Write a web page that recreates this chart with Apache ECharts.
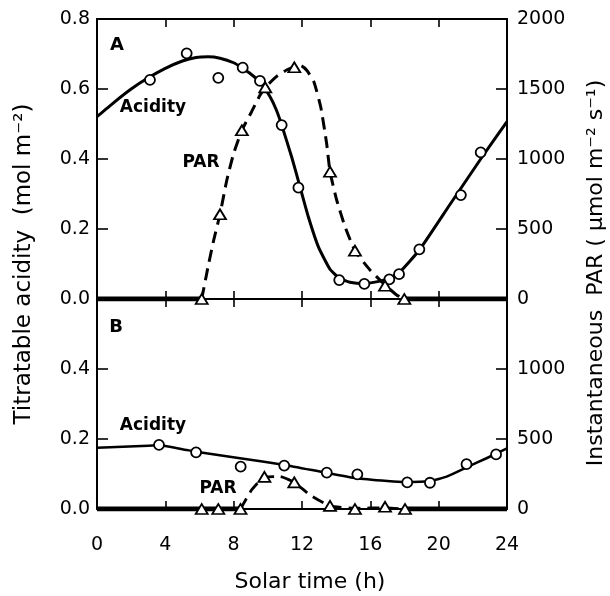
<!DOCTYPE html>
<html>
<head>
<meta charset="utf-8">
<script src="https://cdn.jsdelivr.net/npm/echarts@6/dist/echarts.min.js"></script>
<style>html,body{margin:0;padding:0;background:#fff}#c{width:610px;height:596px}</style>
</head>
<body>
<div id="c"></div>
<script>
// ---- Data ----
const xTicks = [0, 4, 8, 12, 16, 20, 24];

// Panel A: acidity (mol m-2) measured points and fitted curve
const acidityA_pts = [[3.1,0.626],[5.25,0.702],[7.1,0.632],[8.53,0.661],[9.54,0.623],[10.81,0.497],[11.79,0.318],[14.18,0.054],[15.65,0.043],[17.11,0.056],[17.68,0.071],[18.87,0.142],[21.3,0.297],[22.46,0.419]];
const acidityA_curve = [[0,0.521],[1,0.562],[2,0.600],[3,0.632],[4,0.659],[5,0.680],[5.8,0.690],[6.5,0.692],[7.2,0.688],[8,0.675],[8.5,0.660],[9,0.643],[9.54,0.620],[10.13,0.578],[10.5,0.540],[10.81,0.497],[11.4,0.405],[11.88,0.321],[12.37,0.235],[12.96,0.149],[13.64,0.085],[14.18,0.060],[14.8,0.048],[15.63,0.044],[16.57,0.051],[17.11,0.060],[17.7,0.076],[18.87,0.140],[20.66,0.270],[22.46,0.400],[24,0.507]];

// Panel A: PAR (umol m-2 s-1) measured points and curve
const parA_pts = [[6.13,0],[7.2,605],[8.48,1205],[9.85,1512],[11.55,1655],[13.64,909],[15.1,345],[16.86,95],[17.99,0]];
const parA_curve = [[6.13,0],[6.5,230],[6.85,430],[7.2,605],[7.6,850],[8.0,1040],[8.48,1205],[9.05,1338],[9.54,1455],[9.85,1512],[10.52,1590],[11.1,1636],[11.55,1658],[11.95,1666],[12.3,1630],[12.7,1550],[13.1,1370],[13.44,1112],[13.64,909],[14.03,707],[14.52,516],[15.1,345],[15.98,207],[16.86,100],[17.54,29],[17.99,0]];
const nightA = [[0,6.13],[17.99,24]];

// Panel B
const acidityB_pts = [[3.63,0.183],[5.8,0.162],[8.41,0.121],[10.96,0.124],[13.45,0.104],[15.24,0.099],[18.16,0.076],[19.49,0.075],[21.63,0.128],[23.36,0.156]];
const acidityB_curve = [[0,0.175],[1.5,0.178],[3,0.181],[3.63,0.182],[5,0.171],[6,0.162],[8.37,0.145],[11,0.126],[13.45,0.103],[15.2,0.088],[17,0.080],[18,0.077],[19.5,0.080],[20.5,0.093],[21.6,0.118],[22.8,0.145],[24,0.173]];
const parB_pts = [[6.13,0],[7.1,0],[8.4,0],[9.8,229],[11.55,190],[13.64,22],[15.1,0],[16.86,16],[18.03,0]];
const parB_curve = [[8.4,0],[9.05,136],[9.8,229],[10.7,232],[11.55,190],[12.47,100],[13.64,22],[15.1,6],[16.86,8],[18.03,0]];
const nightB = [[0,8.4],[18.03,24]];

const accLeftTicksA = [0, 0.8, 0.2];
const parRightTicksA = [0, 2000, 500];
const accLeftTicksB = [0, 0.6, 0.2];
const parRightTicksB = [0, 1500, 500];

// ---- Chart ----
const FONT = 'DejaVu Sans';
const chart = echarts.init(document.getElementById('c'), null, {renderer:'canvas'});
const black = '#000';
function xAx(grid, pos, labels){
  return {type:'value', gridIndex:grid, position:pos, min:xTicks[0], max:xTicks[xTicks.length-1], interval:4,
    axisLine:{show:true, onZero:false, lineStyle:{color:black, width:2}},
    axisTick:{show:true, inside:true, length:8, lineStyle:{color:black, width:1.6}},
    axisLabel:{show:labels, color:black, fontFamily:FONT, fontSize:19, margin:27},
    splitLine:{show:false}};
}
function yAx(grid, pos, t, dec, hideMax){
  return {type:'value', gridIndex:grid, position:pos, min:t[0], max:t[1], interval:t[2],
    axisLine:{show:true, onZero:false, lineStyle:{color:black, width:2}},
    axisTick:{show:true, inside:true, length:11, lineStyle:{color:black, width:1.6}},
    axisLabel:{show:true, color:black, fontFamily:FONT, fontSize:19, margin: pos==='left'?7:10,
      formatter:function(v){ if(hideMax && Math.abs(v-t[1])<1e-9) return ''; return dec ? v.toFixed(1) : String(v);} },
    splitLine:{show:false}};
}
function lineS(xi, yi, data, width, dashed, z){
  return {type:'line', xAxisIndex:xi, yAxisIndex:yi, data:data, smooth:0.15, symbol:'none', z:z||2,
    lineStyle:{color:black, width:width, type: dashed ? [12,7] : 'solid'}, silent:true};
}
function nightS(xi, yi, seg){
  return {type:'line', xAxisIndex:xi, yAxisIndex:yi, data:[[seg[0],0],[seg[1],0]], symbol:'none', z:3,
    lineStyle:{color:black, width:5}, silent:true};
}
function ptsS(xi, yi, data, sym){
  return {type:'scatter', xAxisIndex:xi, yAxisIndex:yi, data:data, symbol:sym,
    symbolSize: sym==='circle' ? 10 : [12,10], z:5,
    itemStyle:{color:'#fff', borderColor:black, borderWidth:1.8, opacity:1}};
}

const series = [];
nightA.forEach(s => series.push(nightS(0,1,s)));
nightB.forEach(s => series.push(nightS(2,3,s)));
series.push(lineS(0,0,acidityA_curve,3,false));
series.push(lineS(0,1,parA_curve,3,true));
series.push(lineS(2,2,acidityB_curve,2.5,false));
series.push(lineS(2,3,parB_curve,2.8,true));
series.push(ptsS(0,0,acidityA_pts,'circle'));
series.push(ptsS(0,1,parA_pts,'triangle'));
series.push(ptsS(2,2,acidityB_pts,'circle'));
series.push(ptsS(2,3,parB_pts,'triangle'));

const tStyle = (txt, size, bold) => ({text:txt, fill:black, font:(bold?'bold ':'')+size+'px "'+FONT+'"', textAlign:'center', textVerticalAlign:'middle'});

chart.setOption({
  animation:false,
  backgroundColor:'#fff',
  grid:[{left:97, top:19, width:410, height:280}, {left:97, top:299, width:410, height:210}],
  xAxis:[xAx(0,'bottom',false), xAx(0,'top',false), xAx(1,'bottom',true), xAx(1,'top',false)],
  yAxis:[yAx(0,'left',accLeftTicksA,true,false), yAx(0,'right',parRightTicksA,false,false),
         yAx(1,'left',accLeftTicksB,true,true), yAx(1,'right',parRightTicksB,false,true)],
  series:series,
  graphic:[
    {type:'text', x:117, y:45, style:tStyle('A',18,true)},
    {type:'text', x:153, y:108, style:tStyle('Acidity',17,true)},
    {type:'text', x:201, y:163, style:tStyle('PAR',17,true)},
    {type:'text', x:116, y:327, style:tStyle('B',18,true)},
    {type:'text', x:153, y:426, style:tStyle('Acidity',17,true)},
    {type:'text', x:218, y:489, style:tStyle('PAR',17,true)},
    {type:'text', x:310, y:582, style:tStyle('Solar time (h)',22,false)},
    {type:'text', x:24, y:264, rotation:Math.PI/2, style:tStyle('Titratable acidity  (mol m\u207B\u00B2)',23,false)},
    {type:'text', x:596, y:273, rotation:Math.PI/2, style:tStyle('Instantaneous  PAR ( \u03BCmol m\u207B\u00B2 s\u207B\u00B9)',22,false)}
  ]
});
</script>
</body>
</html>
